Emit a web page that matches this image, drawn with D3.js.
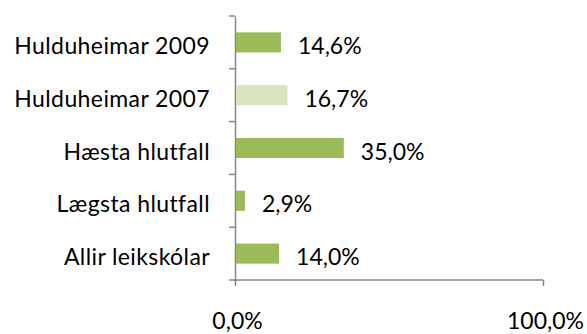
<!DOCTYPE html>
<html>
<head>
<meta charset="utf-8">
<script src="https://cdn.jsdelivr.net/npm/d3@7"></script>
<style>
  html, body { margin: 0; padding: 0; background: #fff; }
  svg { display: block; font-family: Lato, "Open Sans", sans-serif; }
</style>
</head>
<body>
<svg id="chart" width="587" height="334"></svg>
<script>
// Categories listed top to bottom
const categories = ["Hulduheimar 2009", "Hulduheimar 2007", "Hæsta hlutfall", "Lægsta hlutfall", "Allir leikskólar"];
const values = [14.6, 16.7, 35.0, 2.9, 14.0];
const barColors = ["#9bbb59", "#d7e4bd", "#9bbb59", "#9bbb59", "#9bbb59"];
const xTicks = [0, 100];

const fmt = v => v.toFixed(1).replace(".", ",") + "%";

const svg = d3.select("#chart");
const m = { left: 235, right: 543, top: 16, bottom: 280 };
const axisColor = "#868686";
const fontSize = 23;

const x = d3.scaleLinear().domain([0, 100]).range([m.left, m.right]);
const y = d3.scaleBand().domain(categories).range([m.top, m.bottom]).paddingInner(0.62).paddingOuter(0.31);

// category axis
const yAxis = d3.axisLeft(y).tickSize(0).tickPadding(25).tickFormat(d => d);
const gy = svg.append("g").attr("transform", `translate(${m.left},0)`).call(yAxis);
gy.select(".domain").attr("stroke", axisColor).attr("stroke-width", 1.5);
gy.selectAll("text")
  .attr("font-size", fontSize).attr("fill", "#000").attr("font-family", "Lato, sans-serif")
  .attr("letter-spacing", 0.4)
  .attr("dy", null).attr("dominant-baseline", "alphabetic").attr("y", 11.5);

// boundary ticks between categories
const step = (m.bottom - m.top) / categories.length;
const bounds = d3.range(categories.length + 1).map(i => m.top + i * step);
svg.append("g").selectAll("line").data(bounds).join("line")
  .attr("x1", m.left - 6).attr("x2", m.left)
  .attr("y1", d => d).attr("y2", d => d)
  .attr("stroke", axisColor).attr("stroke-width", 1.5);

// value axis
const xAxis = d3.axisBottom(x).tickValues(xTicks).tickSize(6).tickFormat(fmt);
const gx = svg.append("g").attr("transform", `translate(0,${m.bottom})`).call(xAxis);
gx.select(".domain").attr("stroke", axisColor).attr("stroke-width", 1.5).attr("d", `M${m.left},0H${m.right}`);
gx.selectAll(".tick line").attr("stroke", axisColor).attr("stroke-width", 1.5);
gx.selectAll("text")
  .attr("font-size", fontSize).attr("fill", "#000").attr("font-family", "Lato, sans-serif")
  .attr("dy", null).attr("y", 49).attr("x", 2);

// bars
svg.append("g").selectAll("rect").data(values).join("rect")
  .attr("x", x(0) + 1)
  .attr("y", (d, i) => y(categories[i]))
  .attr("width", d => x(d) - x(0))
  .attr("height", y.bandwidth())
  .attr("fill", (d, i) => barColors[i]);

// value labels
svg.append("g").selectAll("text").data(values).join("text")
  .attr("x", d => x(d) + 18)
  .attr("y", (d, i) => y(categories[i]) + y.bandwidth() / 2 + 11.5)
  .attr("font-size", fontSize)
  .attr("fill", "#000")
  .text(fmt);
</script>
</body>
</html>
